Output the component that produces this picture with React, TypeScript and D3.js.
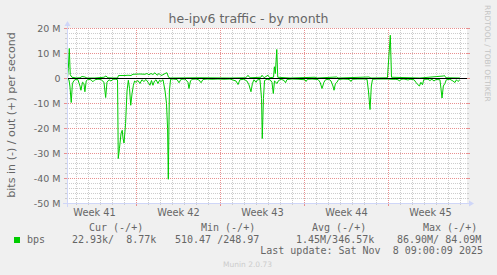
import React from "react";
import * as d3 from "d3";

const W = 497;
const H = 275;
const TITLE = "he-ipv6 traffic - by month";
const Y_LABEL = "bits in (-) / out (+) per second";
const WATERMARK = "RRDTOOL / TOBI OETIKER";
const FOOTER = "Munin 2.0.73";
const PERIOD_START = "2025-10-06T06:00:00Z";
const PERIOD_END = "2025-11-08T14:00:00Z";
const DAY_ZERO = "2025-10-12T00:00:00Z";

const yTicks = [20, 10, 0, -10, -20, -30, -40, -50];
const weekStarts = ["2025-10-05", "2025-10-12", "2025-10-19", "2025-10-26", "2025-11-02"];
const weekLabels = ["Week 41", "Week 42", "Week 43", "Week 44", "Week 45"];

// "in" traffic (drawn negative), Mbit/s, by day offset from DAY_ZERO
const inDays = [-5.75,-5.63,-5.55,-5.44,-5.34,-5.21,-5.04,-4.88,-4.71,-4.63,-4.50,-4.38,-4.30,-4.19,-4.05,-3.80,-3.63,-3.47,-3.21,-2.96,-2.71,-2.57,-2.46,-2.29,-2.13,-1.96,-1.71,-1.58,-1.52,-1.42,-1.29,-1.19,-1.12,-1.04,-0.91,-0.79,-0.68,-0.58,-0.48,-0.37,-0.26,-0.16,-0.04,0.12,0.29,0.45,0.62,0.79,0.96,1.12,1.25,1.37,1.50,1.63,1.79,1.92,2.04,2.21,2.38,2.50,2.59,2.65,2.74,2.84,3.05,3.38,3.54,3.71,4.04,4.29,4.37,4.50,4.63,4.96,5.21,5.38,5.54,5.88,6.29,6.79,7.29,7.79,8.29,8.46,8.62,8.95,9.20,9.37,9.54,9.66,9.79,9.96,10.08,10.29,10.42,10.48,10.58,10.67,10.88,11.13,11.29,11.40,11.50,11.71,11.84,12.05,12.30,12.42,12.54,12.96,13.46,14.04,14.13,14.25,14.63,15.13,15.30,15.46,15.62,15.75,16.04,16.21,16.37,16.46,16.58,16.71,16.83,17.21,17.62,17.79,17.87,17.99,18.45,18.96,19.21,19.33,19.46,19.57,19.67,20.04,20.55,20.95,21.29,21.62,21.79,21.92,22.04,22.29,22.63,22.79,23.13,23.28,23.45,23.58,23.70,23.83,23.95,24.29,24.45,24.62,24.79,24.96,25.29,25.37,25.46,25.57,25.70,25.82,26.12,26.37,26.54,26.66,26.79,26.95];
const inMbps = [0.3,0.5,3,9.6,2,0.8,0.3,0.5,3,4.7,1.5,2,5.3,1,0.3,0.5,1.3,0.5,0.3,0.4,1.5,7.6,1.5,0.5,1,0.3,0.3,0.5,32,28,22,20.7,24,25.8,18,5,0.7,4,10.7,6,2.7,1,1.5,0.8,2,0.5,1.2,0.4,1.5,2.7,0.8,2.7,1,0.5,2,0.7,1.2,0.5,5,10,20,40.3,5,0.3,0.2,0.4,1.7,0.3,0.2,1.5,4,1,0.3,0.2,0.6,1.7,0.4,0.2,0.3,0.2,0.3,0.2,1,2.4,0.5,0.3,1,2.5,5.3,2,0.5,1.5,0.5,0.4,8,24,8,0.8,0.3,0.5,1.5,6,1,2,0.8,0.3,0.8,1.7,0.4,0.2,0.3,0.5,1.2,0.3,0.2,0.4,1.5,4,1.5,0.5,0.3,1,3,4.7,2,1.5,0.4,0.2,0.3,0.6,1.2,0.3,0.2,0.2,0.3,5,12.4,3,0.3,0.2,0.2,0.2,0.3,0.3,0.5,1,0.3,0.2,0.6,0.3,0.5,1.5,2.5,3,1.5,2.5,0.3,0.3,0.8,0.3,1,0.4,0.5,4,7.8,3,2,0.5,0.3,1,1.6,0.5,1.2,0.5];

// "out" traffic (drawn positive), Mbit/s
const outDays = [-5.75,-5.68,-5.60,-5.52,-5.38,-5.04,-4.71,-4.54,-4.30,-4.13,-3.47,-2.71,-2.55,-2.38,-1.96,-1.58,-1.50,-0.96,-0.71,-0.46,-0.29,0.29,0.71,0.87,1.04,1.21,1.37,1.54,1.71,1.88,2.04,2.21,2.38,2.54,2.67,2.80,5.29,7.79,9.12,9.29,9.45,10.37,10.46,10.63,10.96,11.09,11.42,11.49,11.57,11.69,11.77,12.80,14.88,15.05,16.68,16.79,19.37,19.54,20.91,21.02,21.15,21.25,23.62,25.57,25.66,25.78,26.95];
const outMbps = [0.2,4,12,1.5,0.5,0.2,0.3,0.8,0.6,0.2,0.2,0.5,1,0.3,0.2,0.2,1.2,1.2,1.3,1.2,1.7,1.8,1.7,2,1.5,2,1.6,2.3,1.3,2,1.2,1.5,2,2.3,0.5,0.2,0.3,0.2,0.3,1.3,0.3,0.5,1.3,0.3,1.3,0.3,0.5,4.7,2,11.6,0.5,0.2,0.5,0.2,0.6,0.2,0.6,0.2,0.3,8,17.3,0.5,0.2,1,1.2,0.3,0.2];

const seriesName = "bps";
const legendHeaders = ["Cur (-/+)", "Min (-/+)", "Avg (-/+)", "Max (-/+)"];
const legendValues = ["22.93k/  8.77k", "510.47 /248.97", "1.45M/346.57k", "86.90M/ 84.09M"];
const lastUpdate = "Last update: Sat Nov  8 09:00:09 2025";

const SANS = "'DejaVu Sans', sans-serif";
const MONO = "'DejaVu Sans Mono', monospace";
const FONT_COL = "#666666";
const GRID = "#cccccc";
const MGRID = "#e88f8f";
const AXIS = "#CFD6F8";
const GREEN = "#00cc00";

export default function App() {
  const X0 = 67, X1 = 467, Y0 = 203, Y1 = 28;
  const t0 = +new Date(DAY_ZERO);
  const toDate = (d: number) => new Date(t0 + d * 864e5);
  const start = new Date(PERIOD_START);
  const end = new Date(PERIOD_END);
  const x = d3.scaleUtc().domain([start, end]).range([X0, X1]);
  const y = d3.scaleLinear().domain([-50, 20]).range([Y0, Y1]);
  const px = (v: number) => Math.round(v) + 0.5;

  const dayLines = d3.utcDay.range(start, end).filter((d) => d.getUTCDay() !== 0);
  const weekLines = d3.utcSunday.range(start, end);
  const minorY = d3.range(-50, 21, 2).filter((v) => v % 10 !== 0);

  const inPts = inDays.map((d, i) => [toDate(d), -inMbps[i]] as [Date, number]);
  const outPts = outDays.map((d, i) => [toDate(d), outMbps[i]] as [Date, number]);
  const line = d3.line<[Date, number]>().x((p) => x(p[0]) + 0.5).y((p) => y(p[1]) + 0.5);

  const headerX = [89, 201, 312, 423];
  const valueX = [72, 175, 296, 397];

  const vPath = (xs: number[]) => xs.map((xx) => `M${px(xx)},${Y1}V${Y0}`).join("");
  const vTick = (xs: number[], len: number) => xs.map((xx) => `M${px(xx)},${Y0}v${len}`).join("");
  const hPath = (ys: number[]) => ys.map((yy) => `M${X0},${px(yy)}H${X1}`).join("");
  const hTick = (ys: number[], len: number) =>
    ys.map((yy) => `M${X0 - len},${px(yy)}h${len}M${X1},${px(yy)}h${len}`).join("");

  const dayX = dayLines.map((d) => x(d));
  const weekX = weekLines.map((d) => x(d));
  const minY = minorY.map((v) => y(v));
  const majY = yTicks.map((v) => y(v));

  return (
    <svg width={W} height={H} style={{ position: "absolute", left: 0, top: 0 }}>
      <rect x={0} y={0} width={W} height={H} fill="#F0F0F0" />
      <rect x={X0} y={Y1} width={X1 - X0} height={Y0 - Y1} fill="#FFFFFF" />

      <g shapeRendering="crispEdges" fill="none">
        <path d={vPath(dayX)} stroke={GRID} strokeDasharray="1 1" />
        <path d={vTick(dayX, 2)} stroke={GRID} />
        <path d={hPath(minY)} stroke={GRID} strokeDasharray="1 1" />
        <path d={hTick(minY, 2)} stroke={GRID} />
        <path d={vPath(weekX)} stroke={MGRID} strokeDasharray="1 1" />
        <path d={vTick(weekX, 3)} stroke={MGRID} />
        <path d={hPath(majY)} stroke={MGRID} strokeDasharray="1 1" strokeDashoffset={1} />
        <path d={hTick(majY, 3)} stroke={MGRID} />
      </g>

      {yTicks.map((v, i) => (
        <text key={"yt" + i} x={60.5} y={px(y(v)) + 3.3} textAnchor="end" fontFamily={SANS} fontSize={9.5} fill={FONT_COL}>
          {v === 0 ? "0" : `${v} M`}
        </text>
      ))}

      {/* data */}
      <path d={line(inPts) || ""} fill="none" stroke={GREEN} strokeWidth={1} />
      <path d={line(outPts) || ""} fill="none" stroke={GREEN} strokeWidth={1} />
      <line x1={X0} x2={X1} y1={px(y(0))} y2={px(y(0))} stroke="#000000" shapeRendering="crispEdges" />

      {/* axes */}
      <g shapeRendering="crispEdges">
        <line x1={X0 - 4} x2={X1 + 4} y1={Y0 + 0.5} y2={Y0 + 0.5} stroke={AXIS} />
        <line x1={X0 + 0.5} x2={X0 + 0.5} y1={Y0 + 4} y2={Y1 - 4} stroke={AXIS} />
      </g>
      <polygon points={`${X1 + 2},${Y0 - 2.5} ${X1 + 2},${Y0 + 3.5} ${X1 + 7},${Y0 + 0.5}`} fill={AXIS} />
      <polygon points={`${X0 - 2.5},${Y1 - 2} ${X0 + 3.5},${Y1 - 2} ${X0 + 0.5},${Y1 - 7}`} fill={AXIS} />

      {/* x labels */}
      {weekStarts.map((s, i) => {
        const c = new Date(+new Date(s + "T00:00:00Z") + 3.5 * 864e5);
        return (
          <text key={"wl" + i} x={x(c) + 0.5} y={215.5} textAnchor="middle" fontFamily={SANS} fontSize={9.8} fill={FONT_COL}>
            {weekLabels[i]}
          </text>
        );
      })}

      {/* titles */}
      <text x={W / 2} y={22.8} textAnchor="middle" fontFamily={SANS} fontSize={12.5} fill={FONT_COL}>
        {TITLE}
      </text>
      <text transform="translate(15,115) rotate(-90)" textAnchor="middle" fontFamily={SANS} fontSize={11.1} fill={FONT_COL}>
        {Y_LABEL}
      </text>
      <text transform="translate(485,5) rotate(90)" textAnchor="start" fontFamily={SANS} fontSize={7.5} fill="#c4c4c4">
        {WATERMARK}
      </text>

      {/* legend */}
      {legendHeaders.map((h, i) => (
        <text key={"lh" + i} x={headerX[i]} y={230.5} fontFamily={MONO} fontSize={10} fill={FONT_COL} style={{ whiteSpace: "pre" }}>
          {h}
        </text>
      ))}
      <rect x={14} y={237} width={6} height={6} fill={GREEN} />
      <text x={27} y={242.5} fontFamily={MONO} fontSize={10} fill={FONT_COL}>
        {seriesName}
      </text>
      {legendValues.map((v, i) => (
        <text key={"lv" + i} x={valueX[i]} y={242.5} fontFamily={MONO} fontSize={10} fill={FONT_COL} style={{ whiteSpace: "pre" }}>
          {v}
        </text>
      ))}
      <text x={483} y={253.5} textAnchor="end" fontFamily={MONO} fontSize={10} fill={FONT_COL} style={{ whiteSpace: "pre" }}>
        {lastUpdate}
      </text>
      <text x={223} y={267} fontFamily={SANS} fontSize={7.5} fill="#cccccc">
        {FOOTER}
      </text>
    </svg>
  );
}
